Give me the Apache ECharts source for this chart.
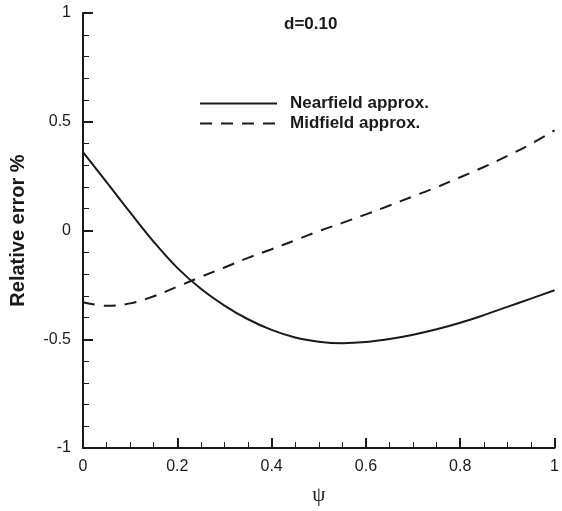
<!DOCTYPE html>
<html>
<head>
<meta charset="utf-8">
<script src="https://cdn.jsdelivr.net/npm/echarts@6/dist/echarts.min.js"></script>
<style>
  html, body { margin: 0; padding: 0; background: #fff; }
  #chart { width: 562px; height: 511px; }
</style>
</head>
<body>
<div id="chart"></div>
<script>
const psi = [0, 0.05, 0.1, 0.15, 0.2, 0.25, 0.3, 0.35, 0.4, 0.45, 0.5,
  0.55, 0.6, 0.65, 0.7, 0.75, 0.8, 0.85, 0.9, 0.95, 1];
const nearfield = [0.36, 0.222, 0.083, -0.052, -0.172, -0.268, -0.345, -0.408, -0.457, -0.492, -0.511,
  -0.518, -0.513, -0.499, -0.479, -0.454, -0.424, -0.389, -0.351, -0.313, -0.275];
const midfield = [-0.33, -0.346, -0.335, -0.302, -0.258, -0.213, -0.17, -0.126, -0.086, -0.045, -0.003,
  0.035, 0.074, 0.115, 0.157, 0.199, 0.245, 0.292, 0.343, 0.398, 0.46];
const xTicks = [0, 0.2, 0.4, 0.6, 0.8, 1];
const yTicks = [-1, -0.5, 0, 0.5, 1];

const font = "'Liberation Sans', Arial, sans-serif";
const pairs = (ys) => psi.map((x, i) => [x, ys[i]]);

const axisCommon = {
  axisLine: { show: true, onZero: false, lineStyle: { color: "#1a1a1a", width: 2 } },
  axisTick: { show: true, inside: true, length: 10, lineStyle: { color: "#1a1a1a", width: 2 } },
  minorTick: { show: true, length: 6, lineStyle: { color: "#1a1a1a", width: 1 } },
  splitLine: { show: false },
  axisLabel: { color: "#1a1a1a", fontSize: 16, fontFamily: font },
};

const chart = echarts.init(document.getElementById("chart"));
chart.setOption({
  animation: false,
  backgroundColor: "#fff",
  title: {
    text: "d=0.10",
    left: 284,
    top: 16,
    padding: 0,
    textStyle: { fontSize: 17, fontWeight: "bold", color: "#1a1a1a", fontFamily: font },
  },
  legend: {
    orient: "vertical",
    left: 199,
    top: 95,
    padding: 0,
    itemGap: 3,
    itemWidth: 77,
    itemHeight: 14,
    itemStyle: { opacity: 0 },
    textStyle: { fontSize: 17, fontWeight: "bold", color: "#1a1a1a", fontFamily: font, padding: [0, 0, 0, 8] },
    data: ["Nearfield approx.", "Midfield approx."],
  },
  grid: { left: 79, right: 3, top: 13, bottom: 58, containLabel: false },
  xAxis: {
    ...axisCommon,
    type: "value",
    min: xTicks[0],
    max: xTicks[xTicks.length - 1],
    interval: 0.2,
    minorTick: { ...axisCommon.minorTick, splitNumber: 4 },
    axisLabel: { ...axisCommon.axisLabel, margin: 11 },
    name: "ψ",
    nameLocation: "middle",
    nameGap: 37,
    nameTextStyle: { fontSize: 21, color: "#1a1a1a", fontFamily: "'Liberation Serif', serif" },
  },
  yAxis: {
    ...axisCommon,
    type: "value",
    min: yTicks[0],
    max: yTicks[yTicks.length - 1],
    interval: 0.5,
    minorTick: { ...axisCommon.minorTick, splitNumber: 5 },
    axisLabel: { ...axisCommon.axisLabel, margin: 12 },
    name: "Relative error %",
    nameLocation: "middle",
    nameGap: 55,
    nameTextStyle: { fontSize: 20, fontWeight: "bold", color: "#1a1a1a", fontFamily: font },
  },
  series: [
    {
      name: "Nearfield approx.",
      type: "line",
      smooth: 0.4,
      symbol: "none",
      data: pairs(nearfield),
      lineStyle: { color: "#1a1a1a", width: 2, type: "solid" },
      itemStyle: { color: "#1a1a1a" },
    },
    {
      name: "Midfield approx.",
      type: "line",
      smooth: 0.4,
      symbol: "none",
      data: pairs(midfield),
      lineStyle: { color: "#1a1a1a", width: 2, type: [12, 9] },
      itemStyle: { color: "#1a1a1a" },
    },
  ],
});
</script>
</body>
</html>
